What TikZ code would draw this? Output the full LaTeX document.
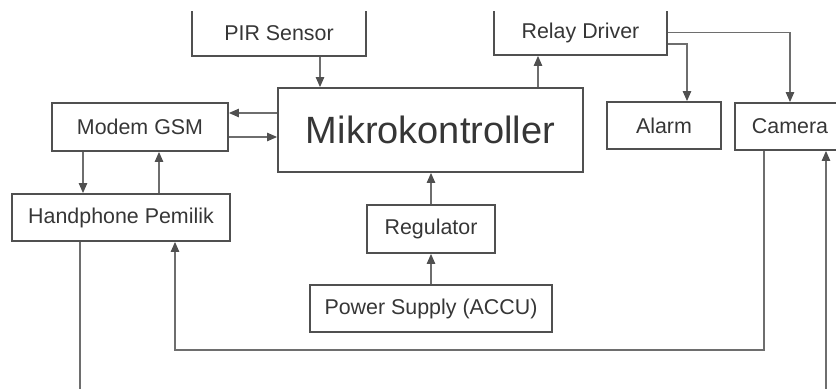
\documentclass[tikz,border=0pt]{standalone}
\usepackage{fontspec}
\setmainfont{Liberation Sans}
\usepackage{xcolor}
\usepackage{tikz}
\usetikzlibrary{arrows.meta}

\definecolor{boxline}{HTML}{505050}
\definecolor{wireline}{HTML}{6E6E6E}
\definecolor{labeltext}{HTML}{363636}

\begin{document}
\begin{tikzpicture}
      [ x=0.5pt, y=-0.5pt,
        block/.style={draw=boxline, line width=0.9pt, rectangle, inner sep=0pt,
                      text=labeltext, font=\fontsize{10.7}{12}\selectfont},
        bigblock/.style={block, font=\fontsize{19}{22}\selectfont},
        arr/.style={draw=wireline, line width=0.65pt,
                    -{Triangle[length=5pt,width=4.2pt,color=boxline]}},
        wire/.style={draw=wireline, line width=0.65pt}
      ]
      \useasboundingbox (0,0) rectangle (836,389);
      \clip (0,11.5) rectangle (836,389);

      \node[block, minimum width=87pt, minimum height=23pt]    (pir)    at (279,33)    {PIR Sensor};
      \node[block, minimum width=86.5pt, minimum height=22.5pt] (relay) at (580.5,32.5) {Relay Driver};
      \node[bigblock, minimum width=152.5pt, minimum height=42pt] (mikro) at (430.5,130) {Mikrokontroller};
      \node[block, minimum width=88pt, minimum height=24pt]    (modem)  at (140,127)   {Modem GSM};
      \node[block, minimum width=109pt, minimum height=23.5pt] (hp)     at (121,217.5) {Handphone Pemilik};
      \node[block, minimum width=64pt, minimum height=24pt]    (reg)    at (431,229)   {Regulator};
      \node[block, minimum width=121pt, minimum height=23.5pt] (power)  at (431,308.5) {Power Supply (ACCU)};
      \node[block, minimum width=57pt, minimum height=23.5pt]  (alarm)  at (664,125.5) {Alarm};
      \node[block, minimum width=55pt, minimum height=23.5pt]  (camera) at (790,126.5) {Camera};

      \coordinate (ret)   at (175,350);
      \coordinate (hpout) at (80,400);
      \coordinate (camin) at (826,400);

      \path[arr] ([xshift=20.5pt]pir.south)    -- ([xshift=20.5pt]pir.south |- mikro.north);
      \path[arr] ([xshift=53.75pt]mikro.north) -- ([xshift=53.75pt]mikro.north |- relay.south);
      \path[arr] ([yshift=8.5pt]mikro.west)    -- ([yshift=8.5pt]mikro.west -| modem.east);
      \path[arr] ([yshift=-5pt]modem.east)     -- ([yshift=-5pt]modem.east -| mikro.west);
      \path[arr] ([xshift=-28.5pt]modem.south) -- ([xshift=-28.5pt]modem.south |- hp.north);
      \path[arr] ([xshift=19pt]hp.north)       -- ([xshift=19pt]hp.north |- modem.south);
      \path[arr] (reg.north)   -- (reg.north |- mikro.south);
      \path[arr] (power.north) -- (reg.south);
      \path[arr] ([yshift=-5.75pt]relay.east)  -| ([xshift=11.5pt]alarm.north);
      \path[arr] (relay.east) -| (camera.north);
      \path[arr] ([xshift=-13pt]camera.south) |- (ret) -- ([xshift=27pt]hp.south);
      \path[wire] ([xshift=-20.5pt]hp.south) -- (hp.south -| hpout) -- (hpout);
      \path[arr] (camin) -- (camera.south -| camin);
\end{tikzpicture}
\end{document}
